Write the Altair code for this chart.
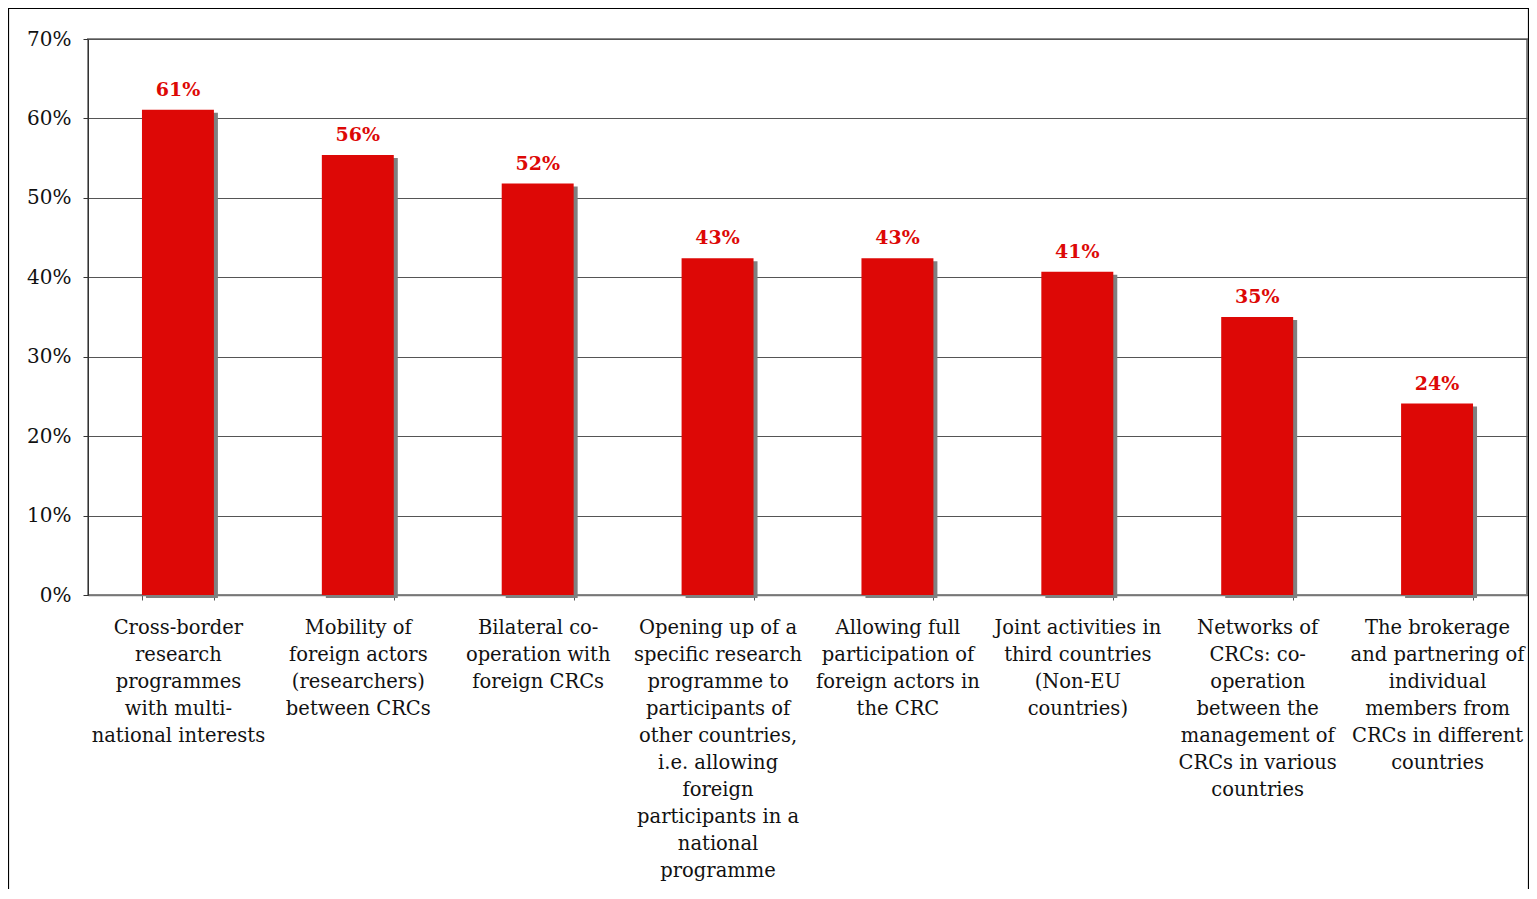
import altair as alt
import pandas as pd

categories = [
    "Cross-border\nresearch\nprogrammes\nwith multi-\nnational interests",
    "Mobility of\nforeign actors\n(researchers)\nbetween CRCs",
    "Bilateral co-\noperation with\nforeign CRCs",
    "Opening up of a\nspecific research\nprogramme to\nparticipants of\nother countries,\ni.e. allowing\nforeign\nparticipants in a\nnational\nprogramme",
    "Allowing full\nparticipation of\nforeign actors in\nthe CRC",
    "Joint activities in\nthird countries\n(Non-EU\ncountries)",
    "Networks of\nCRCs: co-\noperation\nbetween the\nmanagement of\nCRCs in various\ncountries",
    "The brokerage\nand partnering of\nindividual\nmembers from\nCRCs in different\ncountries",
]
values = [61.1, 55.4, 51.8, 42.4, 42.4, 40.7, 35.0, 24.1]
labels = ["61%", "56%", "52%", "43%", "43%", "41%", "35%", "24%"]
y_ticks = [0, 10, 20, 30, 40, 50, 60, 70]

df = pd.DataFrame({"cat": categories, "value": values, "label": labels})

FONT = "DejaVu Serif"
W, H = 1439, 556
RED = "#DD0806"

x_enc = alt.X(
    "cat:N",
    sort=categories,
    scale=alt.Scale(paddingInner=0.6, paddingOuter=0.3),
    axis=alt.Axis(
        title=None,
        labelAngle=0,
        labelExpr="split(datum.label, '\\n')",
        labelLineHeight=27,
        labelFontSize=19.5,
        labelFont=FONT,
        labelColor="#111",
        labelLimit=0,
        labelPadding=18,
        labelBaseline="top",
        tickBand="extent",
        tickSize=5,
        tickColor="#555",
        domainColor="#777",
        domainWidth=1.5,
    ),
)
y_enc = alt.Y(
    "value:Q",
    scale=alt.Scale(domain=[0, 70], nice=False),
    axis=alt.Axis(
        title=None,
        values=y_ticks,
        labelExpr="datum.value + '%'",
        labelFontSize=20,
        labelFont=FONT,
        labelColor="#111",
        labelPadding=12,
        tickSize=5,
        tickColor="#333",
        domainColor="#333",
        gridColor="#555",
        gridWidth=1,
    ),
)

shadow = alt.Chart(df).mark_bar(color="#808080", xOffset=4, yOffset=3).encode(x=x_enc, y=y_enc)
bars = alt.Chart(df).mark_bar(color=RED).encode(x=x_enc, y=y_enc)
text = alt.Chart(df).mark_text(
    color=RED, font=FONT, fontSize=19, fontWeight="bold", baseline="bottom", dy=-10
).encode(x=x_enc, y=y_enc, text="label:N")

frame = alt.Chart(pd.DataFrame({"a": [0]})).mark_rect(
    filled=False, stroke="black", strokeWidth=1.2
).encode(
    x=alt.value(-79.5), x2=alt.value(W + 1.5), y=alt.value(-30.5), y2=alt.value(H + 400)
)

chart = (
    alt.layer(shadow, bars, text, frame)
    .properties(
        width=W,
        height=H,
        autosize=alt.AutoSizeParams(type="none"),
        padding={"left": 80, "top": 31, "right": 2, "bottom": 294},
    )
    .configure_view(stroke="#8a8a8a", strokeWidth=2)
    .configure_axis(grid=True)
    .configure_axisX(grid=False)
)

chart.save("out.html", embed_options={"renderer": "svg", "actions": False})
